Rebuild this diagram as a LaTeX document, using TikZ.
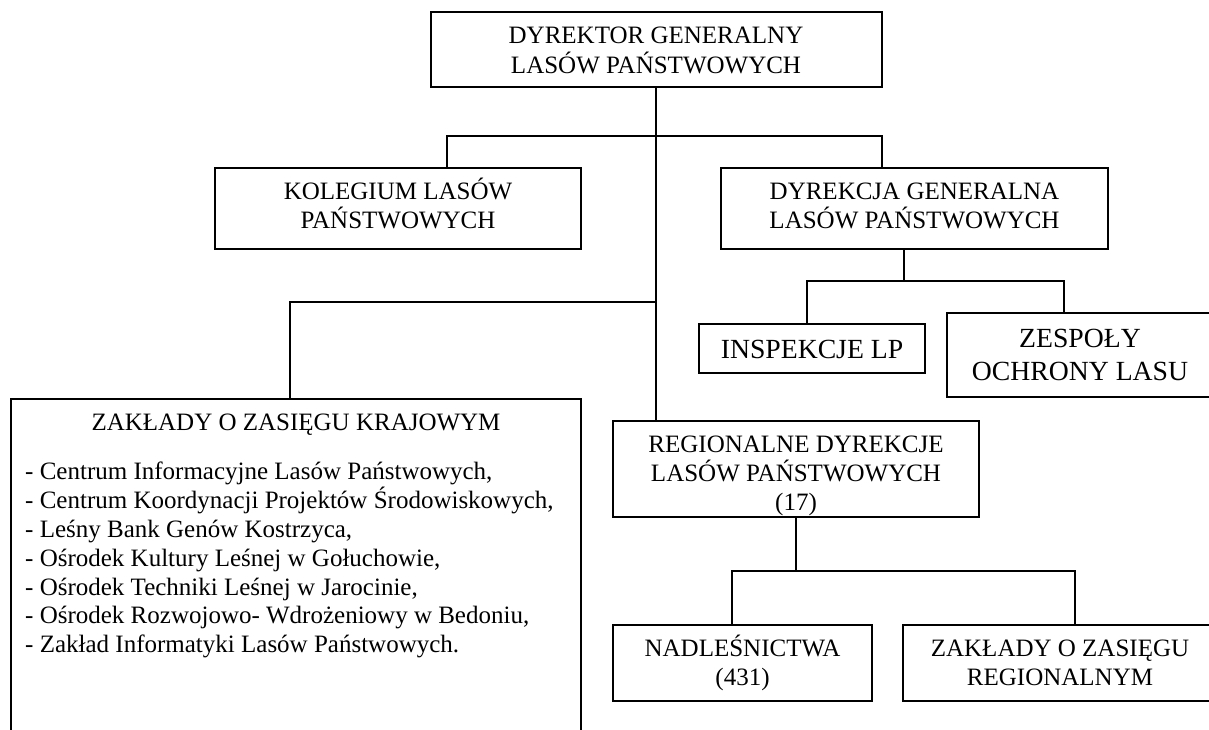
\documentclass[tikz,border=0pt]{standalone}
\usepackage{fontspec}
\setmainfont{Liberation Serif}
\begin{document}
\begin{tikzpicture}[x=1pt,y=-1pt,
  box/.style={draw,line width=1.2pt,rectangle,inner sep=0pt},
  conn/.style={line width=1.2pt},
  txt/.style={inner sep=0pt,anchor=base,font=\fontsize{25}{29}\selectfont},
  txtbig/.style={inner sep=0pt,anchor=base,font=\fontsize{27.7}{32}\selectfont},
  item/.style={inner sep=0pt,anchor=base west,font=\fontsize{25}{29}\selectfont}]
\useasboundingbox (0,0) rectangle (1209,729);
\clip (0,0) rectangle (1209,729);
% boxes
\node[box,minimum width=451pt,minimum height=75pt] (top) at (656.5,49.5) {};
\node[box,minimum width=366pt,minimum height=81pt] (kol) at (398,208.5) {};
\node[box,minimum width=387pt,minimum height=81pt] (dyr) at (914.5,208.5) {};
\node[box,minimum width=226pt,minimum height=49pt] (insp) at (812,348.5) {};
\node[box,minimum width=266pt,minimum height=84pt] (zesp) at (1080,355) {};
\node[box,minimum width=570pt,minimum height=400pt] (left) at (296,599) {};
\node[box,minimum width=366pt,minimum height=96pt] (reg) at (796,469) {};
\node[box,minimum width=259pt,minimum height=76pt] (nadl) at (742.5,663) {};
\node[box,minimum width=314pt,minimum height=76pt] (zreg) at (1060,663) {};
% texts
\node[txt] (t1a) at (656,43) {DYREKTOR GENERALNY};
\node[txt] (t1b) at (656,73) {LASÓW PAŃSTWOWYCH};
\node[txt] (t2a) at (398,199) {KOLEGIUM LASÓW};
\node[txt] (t2b) at (398,228) {PAŃSTWOWYCH};
\node[txt] (t3a) at (914.5,199) {DYREKCJA GENERALNA};
\node[txt] (t3b) at (914.5,228) {LASÓW PAŃSTWOWYCH};
\node[txtbig] (t4) at (812,358) {INSPEKCJE LP};
\node[txtbig] (t5a) at (1080,347) {ZESPOŁY};
\node[txtbig] (t5b) at (1080,380) {OCHRONY LASU};
\node[txt] (t6) at (296,430) {ZAKŁADY O ZASIĘGU KRAJOWYM};
\node[item] (l1) at (25,479) {- Centrum Informacyjne Lasów Państwowych,};
\node[item] (l2) at (25,508) {- Centrum Koordynacji Projektów Środowiskowych,};
\node[item] (l3) at (25,537) {- Leśny Bank Genów Kostrzyca,};
\node[item] (l4) at (25,566) {- Ośrodek Kultury Leśnej w Gołuchowie,};
\node[item] (l5) at (25,595) {- Ośrodek Techniki Leśnej w Jarocinie,};
\node[item] (l6) at (25,623) {- Ośrodek Rozwojowo- Wdrożeniowy w Bedoniu,};
\node[item] (l7) at (25,652) {- Zakład Informatyki Lasów Państwowych.};
\node[txt] (t7a) at (796,452) {REGIONALNE DYREKCJE};
\node[txt] (t7b) at (796,481) {LASÓW PAŃSTWOWYCH};
\node[txt] (t7c) at (796,510) {(17)};
\node[txt] (t8a) at (742.5,656) {NADLEŚNICTWA};
\node[txt] (t8b) at (742.5,685) {(431)};
\node[txt] (t9a) at (1060,656) {ZAKŁADY O ZASIĘGU};
\node[txt] (t9b) at (1060,685) {REGIONALNYM};
% junction coordinates
\coordinate (b1C) at (656,136);
\coordinate (b1L) at (447,136);
\coordinate (b1R) at (882,136);
\coordinate (b2L) at (290,302);
\coordinate (b2R) at (656,302);
\coordinate (b3C) at (904,281);
\coordinate (b3L) at (807,281);
\coordinate (b3R) at (1064,281);
\coordinate (b4C) at (796,571);
\coordinate (b4L) at (732,571);
\coordinate (b4R) at (1075,571);
% connectors
\draw[conn] (top.south -| b1C) -- (reg.north -| b1C);
\draw[conn] (kol.north -| b1L) -- (b1L) -- (b1R) -- (dyr.north -| b1R);
\draw[conn] (left.north -| b2L) -- (b2L) -- (b2R);
\draw[conn] (dyr.south -| b3C) -- (b3C);
\draw[conn] (insp.north -| b3L) -- (b3L) -- (b3R) -- (zesp.north -| b3R);
\draw[conn] (reg.south -| b4C) -- (b4C);
\draw[conn] (nadl.north -| b4L) -- (b4L) -- (b4R) -- (zreg.north -| b4R);
\end{tikzpicture}
\end{document}
